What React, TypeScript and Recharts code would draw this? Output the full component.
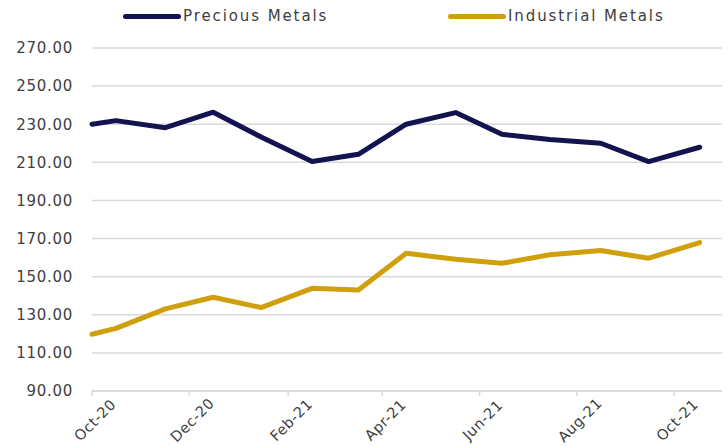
import { LineChart, Line, XAxis, YAxis, CartesianGrid, Legend } from "recharts";

// observation dates (roughly mid-month, plus the opening point)
const obsDates = [
  "2020-10-01", "2020-10-16", "2020-11-16", "2020-12-16", "2021-01-15",
  "2021-02-16", "2021-03-17", "2021-04-16", "2021-05-17", "2021-06-15",
  "2021-07-15", "2021-08-16", "2021-09-15", "2021-10-17",
];
const precious = [230.0, 231.9, 228.2, 236.3, 223.3, 210.4, 214.2, 230.0, 236.1, 224.7, 222.0, 220.0, 210.4, 217.9];
const industrial = [119.8, 122.9, 133.1, 139.2, 133.8, 143.9, 143.0, 162.3, 159.1, 157.0, 161.5, 163.7, 159.7, 167.9];

const tickDates = ["2020-10-01", "2020-12-01", "2021-02-01", "2021-04-01", "2021-06-01", "2021-08-01", "2021-10-01"];
const tickLabels = ["Oct-20", "Dec-20", "Feb-21", "Apr-21", "Jun-21", "Aug-21", "Oct-21"];
const axisStart = "2020-10-01";
const axisEnd = "2021-10-31";
const yTicks = [90, 110, 130, 150, 170, 190, 210, 230, 250, 270];

const series = [
  { key: "precious", name: "Precious Metals", color: "#13134f" },
  { key: "industrial", name: "Industrial Metals", color: "#d09f0c" },
];

const toTime = (d: string) => new Date(d + "T00:00:00Z").getTime();

const data = obsDates.map((d, i) => ({
  t: toTime(d),
  precious: precious[i],
  industrial: industrial[i],
}));

const FONT = "'DejaVu Sans', sans-serif";
const TEXT = "#404040";
const GRID = "#d9d9d9";

function DateTick(props: any) {
  const { x, y, index } = props;
  const cx = x + 3;
  const cy = y + 22;
  return (
    <text
      x={cx}
      y={cy}
      dy="0.35em"
      textAnchor="middle"
      transform={`rotate(-45, ${cx}, ${cy})`}
      fill={TEXT}
      fontSize={14.5}
      fontFamily={FONT}
      letterSpacing={0.5}
    >
      {tickLabels[index]}
    </text>
  );
}

const legendSpots = [123, 448];

function renderLegend() {
  return (
    <div style={{ position: "relative", width: 728, height: 30, fontFamily: FONT }}>
      {series.map((s, i) => (
        <div
          key={s.key}
          style={{ position: "absolute", left: legendSpots[i], top: 6, display: "flex", alignItems: "center" }}
        >
          <span style={{ width: 58, height: 5, borderRadius: 3, background: s.color, display: "inline-block" }} />
          <span style={{ marginLeft: 2, fontSize: 15, color: TEXT, letterSpacing: 1.9, lineHeight: "20px" }}>
            {s.name}
          </span>
        </div>
      ))}
    </div>
  );
}

export default function App() {
  return (
    <div style={{ position: "absolute", left: 0, top: 0, width: 728, height: 446, background: "#fff" }}>
      <LineChart width={728} height={446} data={data} margin={{ top: 18, right: 6, bottom: 0, left: 0 }}>
        <CartesianGrid vertical={false} stroke={GRID} strokeWidth={1.5} />
        <Legend verticalAlign="top" content={renderLegend} wrapperStyle={{ top: 0, left: 0, width: 728 }} />
        <XAxis
          dataKey="t"
          type="number"
          domain={[toTime(axisStart), toTime(axisEnd)]}
          ticks={tickDates.map(toTime)}
          interval={0}
          height={55}
          tickSize={5}
          tickMargin={2}
          stroke={GRID}
          strokeWidth={1.5}
          tick={<DateTick />}
        />
        <YAxis
          domain={[90, 270]}
          ticks={yTicks}
          width={92}
          axisLine={false}
          tickLine={false}
          tickSize={0}
          tickMargin={19}
          tickFormatter={(v: number) => v.toFixed(2)}
          tick={{ fill: TEXT, fontSize: 15, fontFamily: FONT, letterSpacing: 0.7 }}
        />
        {series.map((s) => (
          <Line
            key={s.key}
            type="linear"
            dataKey={s.key}
            name={s.name}
            stroke={s.color}
            strokeWidth={5}
            strokeLinejoin="round"
            strokeLinecap="round"
            dot={false}
            isAnimationActive={false}
          />
        ))}
      </LineChart>
    </div>
  );
}
